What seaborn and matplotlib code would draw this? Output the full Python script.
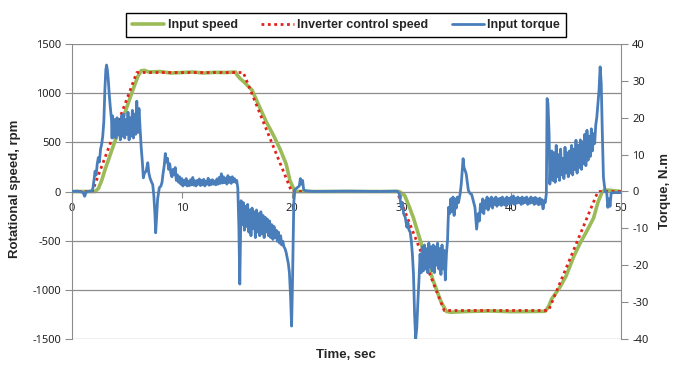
import numpy as np
import pandas as pd
import matplotlib
matplotlib.use("Agg")
import matplotlib.pyplot as plt
import seaborn as sns

# ---------------- data ----------------
speed_t = [0, 2.1, 2.4, 2.7, 3.0, 3.5, 4.0, 4.5, 5.0, 5.5, 6.0, 6.3, 6.6, 7.0, 8, 9, 10, 11, 12, 13, 14,
           14.9, 15.0, 15.3, 15.7, 16.4, 17.0, 17.7, 18.4, 19.0, 19.5, 19.85, 20.3, 25, 29.8, 30.3, 30.7,
           31.1, 32.0, 32.9, 33.6, 34.1, 34.5, 36, 38, 40, 42, 43.1, 43.4, 43.7, 44.4, 45.0, 45.7, 46.3,
           46.9, 47.5, 47.9, 48.3, 48.6, 49.2, 50]
input_speed = [0, 0, 30, 110, 220, 380, 540, 700, 860, 1020, 1170, 1228, 1232, 1215, 1220, 1205, 1210, 1215,
               1205, 1212, 1210, 1215, 1190, 1150, 1110, 1030, 880, 707, 560, 418, 280, 112, 0, 0, 0, -40,
               -150, -270, -600, -908, -1120, -1220, -1228, -1220, -1215, -1222, -1220, -1218, -1170, -1090,
               -980, -860, -660, -520, -400, -270, -110, 0, 15, 10, 0]

ctrl_t = [0, 1.85, 5.9, 15.6, 20.0, 29.6, 33.9, 43.4, 47.9, 50]
ctrl_speed = [0, 0, 1210, 1210, 0, 0, -1210, -1210, 0, 0]

torque_t = [0, 0.5, 1.0, 1.15, 1.3, 1.8,
            1.9, 2.0, 2.1, 2.2, 2.3, 2.4, 2.5, 2.6, 2.7, 2.8, 2.9, 3.0, 3.08, 3.15, 3.22, 3.3, 3.4, 3.5, 3.6, 3.65,
            3.7, 3.8, 3.9, 4.0, 4.1, 4.2, 4.3, 4.4, 4.5, 4.6, 4.7, 4.8, 4.9, 5.0, 5.1, 5.2, 5.3, 5.4, 5.5, 5.6,
            5.7, 5.8, 5.9, 6.0, 6.1, 6.2,
            6.3, 6.4, 6.5, 6.6, 6.75, 6.9, 7.0, 7.1, 7.25, 7.35, 7.45, 7.55, 7.62, 7.7, 7.8, 7.95, 8.1, 8.2, 8.3,
            8.4, 8.5, 8.6, 8.7, 8.8, 8.9, 9.0, 9.1, 9.2, 9.3, 9.4, 9.5, 9.6, 9.7, 9.8, 9.9, 10.0,
            10.1, 10.2, 10.3, 10.4, 10.5, 10.6, 10.7, 10.8, 10.9, 11.0, 11.1, 11.2, 11.3, 11.4, 11.5, 11.6, 11.7,
            11.8, 11.9, 12.0, 12.1, 12.2, 12.3, 12.4, 12.5, 12.6, 12.7, 12.8, 12.9, 13.0, 13.1, 13.2, 13.3, 13.4,
            13.5, 13.6, 13.7, 13.8, 13.9, 14.0, 14.1, 14.2, 14.3, 14.4, 14.5, 14.6, 14.7, 14.8, 14.9, 15.0, 15.1,
            15.2, 15.28, 15.35, 15.4, 15.5, 15.6, 15.7, 15.8, 15.9, 16.0, 16.1, 16.2, 16.3, 16.4, 16.5, 16.6, 16.7,
            16.8, 16.9, 17.0, 17.1, 17.2, 17.3, 17.4, 17.5, 17.6, 17.7, 17.8, 17.9, 18.0, 18.1, 18.2, 18.3, 18.4,
            18.5, 18.6, 18.7, 18.8, 18.9, 19.0, 19.1, 19.2, 19.3, 19.4, 19.5, 19.6, 19.7, 19.8, 19.9, 20.0, 20.08,
            20.15, 20.2, 20.3, 20.5, 20.7, 20.8, 20.9, 21.0, 21.1, 21.3, 22, 25, 28, 29.6,
            29.8, 30.0, 30.1, 30.2, 30.35, 30.5, 30.6, 30.7, 30.8, 30.9, 31.0, 31.1, 31.2, 31.3, 31.4, 31.5, 31.6,
            31.7, 31.8, 31.9, 32.0, 32.1, 32.2, 32.3, 32.4, 32.5, 32.6, 32.7, 32.8, 32.9, 33.0, 33.1, 33.2, 33.3,
            33.4, 33.5, 33.6, 33.7, 33.8, 33.9, 34.0, 34.1, 34.2, 34.3, 34.4, 34.5, 34.6, 34.7, 34.8, 34.9, 35.0,
            35.1, 35.2, 35.35, 35.45, 35.55, 35.62, 35.7, 35.8, 35.9, 36.0, 36.1, 36.25, 36.4, 36.55, 36.7, 36.85,
            37.0, 37.1, 37.2,
            37.3, 37.4, 37.5, 37.6, 37.7, 37.8, 37.9, 38.0, 38.1, 38.2, 38.3, 38.4, 38.5, 38.6, 38.7, 38.8, 38.9,
            39.0, 39.1, 39.2, 39.3, 39.4, 39.5, 39.6, 39.7, 39.8, 39.9, 40.0, 40.1, 40.2, 40.3, 40.4, 40.5, 40.6,
            40.7, 40.8, 40.9, 41.0, 41.1, 41.2, 41.3, 41.4, 41.5, 41.6, 41.7, 41.8, 41.9, 42.0, 42.1, 42.2, 42.3,
            42.4, 42.5, 42.6, 42.7, 42.8, 42.9, 43.0, 43.1,
            43.2, 43.27, 43.35, 43.45, 43.52, 43.6, 43.7,
            43.8, 43.9, 44.0, 44.1, 44.2, 44.3, 44.4, 44.5, 44.6, 44.7, 44.8, 44.9, 45.0, 45.1, 45.2, 45.3, 45.4,
            45.5, 45.6, 45.7, 45.8, 45.9, 46.0, 46.1, 46.2, 46.3, 46.4, 46.5, 46.6, 46.7, 46.8, 46.9, 47.0, 47.1,
            47.2, 47.3, 47.4, 47.5, 47.6, 47.7, 47.8,
            47.9, 48.0, 48.1, 48.2, 48.3, 48.4, 48.55, 48.7, 48.8, 48.9, 49.0, 49.1, 49.3, 50.0]
input_torque = [0, 0.1, -0.2, -1.3, -0.1, 0.2,
                0.8, 3.0, 5.5, 4.5, 7.5, 9.2, 8.0, 11.5, 12.8, 15.0, 19.0, 28.0, 33.0, 34.3, 33.0, 30.5, 26.0,
                22.5, 19.5, 14.5,
                20.5, 15.0, 19.5, 14.5, 20.0, 15.5, 19.0, 14.0, 20.5, 15.0, 21.0, 14.5, 19.5, 15.5, 21.5, 14.0,
                20.0, 15.0, 22.0, 14.5, 21.0, 15.5, 24.5, 16.0, 22.5, 17.0,
                12.0, 8.3, 3.7, 5.0, 5.5, 7.8, 5.0, 3.7, 2.5, 1.9, -1.0, -6.0, -11.2, -7.0, -2.0, 1.0, 1.5, 2.5,
                5.0, 7.0, 10.3, 8.0, 9.0, 6.0, 7.5, 5.0, 4.0, 6.0, 4.5, 6.5, 3.0, 4.5, 2.5, 4.0, 2.0, 3.5,
                1.5, 3.0, 1.8, 3.5, 1.5, 2.8, 1.6, 3.2, 1.8, 3.8, 1.7, 2.9, 1.5, 3.0, 2.0, 3.4, 1.6,
                3.0, 1.8, 3.3, 1.5, 2.8, 2.0, 3.6, 1.7, 3.0, 1.9, 3.2, 2.0, 2.8, 1.8, 3.4, 2.0, 3.8,
                2.2, 4.8, 2.3, 4.0, 2.4, 3.6, 2.0, 4.3, 2.5, 3.8, 2.2, 4.0, 2.6, 3.5, 2.5, 3.0, 1.0,
                -10.0, -25.1, -12.0, -2.5, -9.0, -3.0, -10.5, -4.0, -9.5, -3.5, -11.0, -5.0, -12.0, -4.5, -10.0,
                -5.5, -12.5, -5.0, -11.0, -6.0, -12.0, -5.5, -11.5, -6.5, -12.5, -7.0, -11.0, -7.5, -12.0, -8.0,
                -12.5, -9.0, -13.0, -9.5, -12.5, -10.5, -13.5, -11.0, -14.0, -12.0, -14.5, -13.5, -15.0, -15.5,
                -16.5, -18.0, -19.5, -22.0, -28.0, -36.5, -25.0,
                -13.0, -3.0, 0.5, 1.0, 1.5, 3.5, 2.0, 3.0, 0.5, 0.2, 0, 0.1, 0, 0.1,
                -0.5, -4.3, -3.0, -6.0, -7.0, -9.7, -8.5, -10.5, -11.0, -13.3, -17.0, -22.4, -33.3, -40.0, -37.0,
                -30.0, -24.0,
                -17.0, -22.0, -15.0, -21.5, -14.5, -21.0, -15.5, -22.0, -14.0, -20.5, -15.0, -21.5, -14.5, -22.0,
                -15.0, -20.0, -14.0, -21.0, -15.5, -22.5, -14.5, -21.0, -16.0, -24.0, -17.0, -13.3, -4.3, -6.0,
                -2.0, -5.5, -1.5, -6.5, -2.0, -4.5, -1.5, -3.0, -0.6, 2.0, 6.0, 8.9, 6.5, 5.7, 4.8, 2.5, 0.3,
                -0.5, -0.8, -2.5, -4.3, -10.2, -6.0, -8.0, -3.4,
                -5.5, -2.0, -6.0, -2.5, -4.5, -1.5, -5.0, -2.0, -4.0, -1.5, -4.5, -2.0, -3.5, -1.5, -4.0, -2.0,
                -3.5, -1.8, -3.8, -1.5, -3.5, -2.0, -3.8, -1.5, -3.2, -1.8, -3.5, -1.5, -3.0, -1.2, -3.5, -1.8,
                -3.2, -1.5, -3.0, -1.8, -3.5, -1.5, -3.2, -1.8, -3.0, -1.5, -3.5, -2.0, -3.2, -1.5, -3.0, -1.8,
                -3.5, -1.6, -3.2, -2.0, -3.6, -1.8, -3.4, -2.2, -4.7, -2.5, -3.0,
                -0.6, 25.2, 23.8, 15.7, 2.0, 8.0, 11.0,
                3.0, 10.5, 2.5, 12.5, 4.0, 10.0, 3.0, 11.5, 4.5, 9.0, 3.5, 12.0, 5.0, 10.5, 4.0, 11.0, 5.0,
                12.5, 4.5, 11.5, 6.0, 13.9, 5.0, 12.5, 6.5, 14.0, 6.0, 13.5, 7.5, 15.5, 7.0, 16.6, 8.5, 15.0,
                9.5, 17.0, 11.0, 15.7, 13.0, 18.0, 20.2,
                24.0, 27.5, 33.8, 29.3, 15.7, 3.9, 0.0, -0.3, -4.3, -2.0, -4.0, -0.5, -0.3, -0.3]

x_ticks = [0, 10, 20, 30, 40, 50]
speed_ticks = [-1500, -1000, -500, 0, 500, 1000, 1500]
torque_ticks = [-40, -30, -20, -10, 0, 10, 20, 30, 40]

# ---------------- styling ----------------
sns.set_style("white")
plt.rcParams['font.family'] = ['Noto Sans', 'DejaVu Sans']

C_GREEN = "#9BBB59"
C_RED = "#E3211B"
C_BLUE = "#4A7EBB"
C_GRID = "#8C8C8C"
BOLD_FAMILY = ['Liberation Sans', 'DejaVu Sans']

fig = plt.figure(figsize=(6.82, 3.70), dpi=100)
ax = fig.add_axes([72/682, 1-339/370, (621-72)/682, (339-44)/370])
ax2 = ax.twinx()

df_in = pd.DataFrame({"t": speed_t, "v": input_speed})
df_ctrl = pd.DataFrame({"t": ctrl_t, "v": ctrl_speed})
df_tq = pd.DataFrame({"t": torque_t, "v": input_torque})

sns.lineplot(data=df_in, x="t", y="v", ax=ax, color=C_GREEN, lw=2.6,
             estimator=None, sort=False, label="Input speed", legend=False)
sns.lineplot(data=df_ctrl, x="t", y="v", ax=ax, color=C_RED, lw=2.0,
             estimator=None, sort=False, label="Inverter control speed", legend=False)
ax.lines[-1].set_linestyle((0, (1, 1.3)))
sns.lineplot(data=df_tq, x="t", y="v", ax=ax2, color=C_BLUE, lw=2.0,
             estimator=None, sort=False, label="Input torque", legend=False)

ax.set_xlim(0, 50)
ax.set_ylim(-1500, 1500)
ax2.set_ylim(-40, 40)
ax.set_xticks(x_ticks)
ax.set_xticklabels([str(v) for v in x_ticks])
ax.set_yticks(speed_ticks)
ax.set_yticklabels([str(v) for v in speed_ticks])
ax2.set_yticks(torque_ticks)
ax2.set_yticklabels([str(v) for v in torque_ticks])

ax.yaxis.grid(True, color=C_GRID, lw=0.9)
ax.set_axisbelow(True)

for a in (ax, ax2):
    for s in a.spines.values():
        s.set_visible(False)
ax.spines['left'].set_visible(True)
ax.spines['left'].set_color(C_GRID)
ax.spines['bottom'].set_visible(True)
ax.spines['bottom'].set_position(('data', 0))
ax.spines['bottom'].set_color(C_GRID)
ax2.spines['right'].set_visible(True)
ax2.spines['right'].set_color(C_GRID)

ax.tick_params(axis='y', which='major', direction='out', length=5, color=C_GRID,
               labelsize=8, labelcolor="#222222", pad=3, left=True)
ax.tick_params(axis='x', which='major', direction='out', length=4, color=C_GRID,
               labelsize=8, labelcolor="#222222", pad=4, bottom=True)
ax2.tick_params(axis='y', which='major', direction='out', length=5, color=C_GRID,
                labelsize=8, labelcolor="#222222", pad=3, right=True)

ax.set_xlabel("")
ax.set_ylabel("")
ax2.set_ylabel("")
fig.text(346/682, 1-355/370, "Time, sec", ha="center", va="center", fontsize=9.5,
         fontweight="bold", family=BOLD_FAMILY)
fig.text(15/682, 1-189/370, "Rotational speed, rpm", ha="center", va="center", rotation=90,
         fontsize=9.5, fontweight="bold", family=BOLD_FAMILY)
fig.text(665/682, 1-191/370, "Torque, N.m", ha="center", va="center", rotation=90,
         fontsize=9.5, fontweight="bold", family=BOLD_FAMILY)

handles = [ax.lines[0], ax.lines[1], ax2.lines[0]]
labels = ["Input speed", "Inverter control speed", "Input torque"]
leg = fig.legend(handles, labels, loc="center", bbox_to_anchor=(346/682, 1-25/370), ncol=3,
                 frameon=True, fancybox=False, edgecolor="black", framealpha=1,
                 prop={"size": 9, "weight": "bold", "family": BOLD_FAMILY},
                 handlelength=2.6, handletextpad=0.25, columnspacing=1.9, borderpad=0.45)
leg.get_frame().set_linewidth(1.0)

fig.savefig("out.png", dpi=100)
